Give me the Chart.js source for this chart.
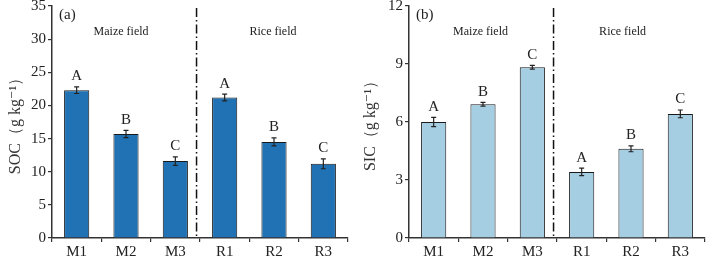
<!DOCTYPE html>
<html>
<head>
<meta charset="utf-8">
<script src="https://cdn.jsdelivr.net/npm/chart.js@4"></script>
<style>
  body { margin: 0; background: #fff; }
  .box { position: absolute; top: 0; height: 262px; }
  #boxA { left: 0; width: 355px; }
  #boxB { left: 355px; width: 352px; }
</style>
</head>
<body>
<div class="box" id="boxA"><canvas id="chartA"></canvas></div>
<div class="box" id="boxB"><canvas id="chartB"></canvas></div>
<script>
// カテゴリ
const labels = ['M1', 'M2', 'M3', 'R1', 'R2', 'R3'];
// SOC (g kg-1)
const socValues = [22.3, 15.7, 11.6, 21.2, 14.5, 11.2];
const socErrors = [0.5, 0.55, 0.65, 0.5, 0.6, 0.75];
// SIC (g kg-1)
const sicValues = [6.0, 6.92, 8.83, 3.42, 4.61, 6.42];
const sicErrors = [0.24, 0.1, 0.1, 0.19, 0.15, 0.2];
// 有意差の文字
const letters = ['A', 'B', 'C', 'A', 'B', 'C'];
// 区画名
const groupNames = ['Maize field', 'Rice field'];

const serif = "'Liberation Serif', 'DejaVu Serif', serif";
const axisColor = '#333';

// エラーバー・文字・区切り線・注記を描くプラグイン
const extras = {
    id: 'extras',
    afterDatasetsDraw(chart, args, opts) {
        const { ctx, scales: { x, y }, chartArea } = chart;
        const vals = chart.data.datasets[0].data;
        ctx.save();
        // エラーバー
        ctx.strokeStyle = '#222';
        ctx.lineWidth = 1.2;
        vals.forEach((v, i) => {
            const cx = x.getPixelForValue(i);
            const top = y.getPixelForValue(v + opts.errors[i]);
            const bot = y.getPixelForValue(v - opts.errors[i]);
            ctx.beginPath();
            ctx.moveTo(cx, top); ctx.lineTo(cx, bot);
            ctx.moveTo(cx - 2.5, top); ctx.lineTo(cx + 2.5, top);
            ctx.moveTo(cx - 2.5, bot); ctx.lineTo(cx + 2.5, bot);
            ctx.stroke();
            // 文字
            ctx.fillStyle = '#222';
            ctx.font = '15px ' + serif;
            ctx.textAlign = 'center';
            ctx.textBaseline = 'bottom';
            ctx.fillText(letters[i], cx, top - 3);
        });
        // 区切り線 (一点鎖線)
        const lx = x.getPixelForValue(opts.divider);
        ctx.setLineDash([9, 3, 1.5, 3]);
        ctx.lineWidth = 1.5;
        ctx.strokeStyle = '#111';
        ctx.beginPath();
        ctx.moveTo(lx, chartArea.top + 2);
        ctx.lineTo(lx, chartArea.bottom);
        ctx.stroke();
        ctx.setLineDash([]);
        // パネル記号
        ctx.fillStyle = '#222';
        ctx.font = '15px ' + serif;
        ctx.textAlign = 'left';
        ctx.textBaseline = 'middle';
        ctx.fillText(opts.panel, chartArea.left + 7, 15);
        // 区画名
        ctx.font = '12px ' + serif;
        ctx.textAlign = 'center';
        ctx.fillText(groupNames[0], x.getPixelForValue(opts.groupX[0]), 32);
        ctx.fillText(groupNames[1], x.getPixelForValue(opts.groupX[1]), 32);
        ctx.restore();
    }
};

function createBarChart(canvasId, values, errors, color, yMax, step, yTitle, panel, axisWidth, padRight, groupX) {
    const canvas = document.getElementById(canvasId);
    new Chart(canvas.getContext('2d'), {
        type: 'bar',
        data: {
            labels: labels,
            datasets: [{
                data: values,
                backgroundColor: color,
                borderColor: '#1a1a1a',
                borderWidth: 1,
                categoryPercentage: 1,
                barPercentage: 0.51
            }]
        },
        plugins: [extras],
        options: {
            responsive: true,
            maintainAspectRatio: false,
            animation: false,
            layout: { padding: { top: 6, left: 0, right: padRight, bottom: 0 } },
            plugins: {
                legend: { display: false },
                tooltip: { enabled: false },
                extras: { errors: errors, divider: 2.43, panel: panel, groupX: groupX }
            },
            scales: {
                x: {
                    grid: { drawOnChartArea: false, drawTicks: true, tickLength: 4, color: axisColor, lineWidth: 1.2 },
                    border: { display: true, color: axisColor, width: 1.5 },
                    ticks: { color: '#222', font: { family: serif, size: 15 }, padding: 1 }
                },
                y: {
                    min: 0,
                    max: yMax,
                    afterFit(scale) { scale.width = axisWidth; scale.paddingTop = 0; },
                    grid: { drawOnChartArea: false, drawTicks: true, tickLength: 4, color: axisColor, lineWidth: 1.2 },
                    border: { display: true, color: axisColor, width: 1.5 },
                    ticks: { stepSize: step, color: '#222', font: { family: serif, size: 15 }, padding: 2 },
                    title: {
                        display: true,
                        text: yTitle,
                        color: '#333',
                        font: { family: serif, size: 16 },
                        padding: { top: 6, bottom: 4 }
                    }
                }
            }
        }
    });
}

createBarChart('chartA', socValues, socErrors, '#2172b4', 35, 5, 'SOC（g kg⁻¹）', '(a)', 52, 7, [0.9, 3.98]);
createBarChart('chartB', sicValues, sicErrors, '#a6cee3', 12, 3, 'SIC（g kg⁻¹）', '(b)', 54, 2, [0.95, 3.83]);
</script>
</body>
</html>
